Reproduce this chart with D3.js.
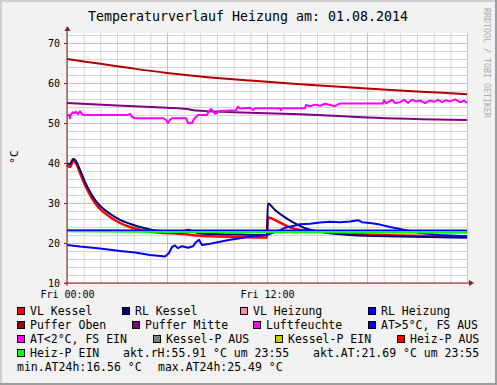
<!DOCTYPE html>
<html>
<head>
<meta charset="utf-8">
<script src="https://cdn.jsdelivr.net/npm/d3@7"></script>
<style>
  body { margin: 0; background: #f2f2f2; }
  text { font-family: "DejaVu Sans Mono", monospace; fill: #000; }
</style>
</head>
<body>
<svg id="chart" width="497" height="385"></svg>
<script>

// --- data: [hour of day, value] ---
var pufferOben = [[0,66],[2,64.8],[4,63.6],[6,62.5],[8,61.6],[11,60.6],[14,59.7],[18,58.6],[21,57.9],[24,57.2]];

var pufferMitte = [[0,55],[3,54.4],[6,53.8],[7.2,53.5],[7.7,53.1],[10,52.7],[14,52.2],[18,51.4],[24,50.75]];

var luftfeuchte = [[0,52],[0.12,52],[0.18,51.2],[0.24,52.2],[0.36,52.7],[0.48,52.5],[0.54,52.8],[0.66,52.2],[0.78,52.9],
  [0.9,52.2],[1.02,52],[3.66,52],[3.78,52.3],[3.9,51.5],[4.08,51.2],[5.76,51.2],[5.94,50.8],[6.06,50],[6.18,50.8],[6.3,51.2],
  [7.14,51.2],[7.26,50],[7.5,50],[7.62,51],[7.86,52],[8.4,52],[8.52,53],[8.64,53.5],[8.76,53],[8.88,52.3],[9.0,52.5],[9.12,53],
  [10.14,53.2],[10.26,54.1],[10.38,53.6],[10.98,53.8],[11.16,53.25],[11.28,53.7],[12.78,53.7],[12.84,53.2],[12.9,53.7],
  [14.28,53.7],[14.34,54.5],[14.58,54.2],[14.88,54.6],[15.18,54.3],[15.48,54.8],[15.78,54.5],[16.08,54.2],[16.38,54.9],
  [18.96,54.9],[19.02,55.7],[19.14,54.9],[19.5,55.8],[19.68,55],[19.98,55.2],[20.22,55.8],[20.46,55],[20.7,55.8],[20.94,55.4],
  [21.18,55.6],[21.48,55],[21.78,55.6],[22.02,55.3],[22.26,55.8],[22.5,55.2],[22.74,55.7],[22.98,55.4],[23.28,55.9],
  [23.58,55.2],[23.82,55.6],[24,55]];

var vlKessel = [[0,39.5],[0.18,39],[0.36,40.5],[0.48,40.3],[0.78,37.5],[1.08,34.5],[1.38,32],[1.68,30],[1.98,28.5],
  [2.58,26.5],[3.18,25],[3.78,24],[4.38,23.3],[4.98,22.8],[5.88,22.5],[6.78,22.3],[7.98,21.8],[9.18,21.6],[10.38,21.5],
  [12,21.4],[12.05,26.4],[12.78,25.1],[13.38,23.9],[13.98,23.25],[15.18,22.8],[16.98,22.3],[19.98,21.9],[24,21.6]];

var rlKessel = [[0,40],[0.18,39.7],[0.36,41],[0.48,40.8],[0.78,38.3],[1.08,35.3],[1.38,32.8],[1.68,30.8],[1.98,29.3],
  [2.58,27.3],[3.18,25.8],[3.78,24.8],[4.38,24],[4.98,23.4],[5.88,22.9],[6.78,22.6],[7.26,23.3],[7.6,22.8],[8,22.4],
  [9.18,22.2],[10.38,22.1],[12,22],[12.05,29.9],[12.48,28.25],[13.08,26.4],[13.68,24.9],[14.28,23.7],[15.18,22.8],
  [16.98,22],[19.98,21.6],[24,21.3]];

var rlHeizung = [[0,19.5],[0.78,19.1],[1.98,18.6],[3.18,18.0],[4.08,17.6],[4.98,17.0],[5.46,16.8],[5.88,16.6],[6.12,17.5],
  [6.3,19.0],[6.48,19.4],[6.66,18.7],[6.9,19.2],[7.26,18.8],[7.56,19.2],[7.74,20.2],[7.92,20.8],[8.1,19.5],[8.58,19.8],
  [9.18,20.3],[9.78,20.8],[10.38,21.2],[10.98,21.6],[11.58,21.8],[12,22.0],[12.3,22.5],[12.66,23.0],[13.08,23.8],
  [13.5,24.2],[13.98,24.7],[14.58,24.8],[15.18,25.1],[15.78,25.3],[16.38,25.2],[16.98,25.4],[17.46,25.7],[17.7,25.2],
  [18.18,25.0],[18.78,24.6],[19.38,24.0],[19.98,23.5],[20.58,23.0],[21.18,22.5],[22.38,22.0],[24,21.7]];

var atSchwelle = [[0,23.2],[24,23.2]];
var heizPEin = [[0,23.05],[6,22.9],[12,22.8],[24,22.7]];

var yTicks = [10,20,30,40,50,60,70];
var xTickHours = [0,12];

var legendNames = ["VL Kessel","RL Kessel","VL Heizung","RL Heizung","Puffer Oben","Puffer Mitte","Luftfeuchte",
  "AT>5°C, FS AUS","AT<2°C, FS EIN","Kessel-P AUS","Kessel-P EIN","Heiz-P AUS","Heiz-P EIN"];
var legendColors = ["#ff0000","#000080","#ff8ca0","#0000ff","#a00000","#800080","#ff00ff",
  "#0000ff","#ff00ff","#808080","#cccc00","#ff0000","#00ff00"];
var statTexts = ["akt.rH:55.91 °C um 23:55","akt.AT:21.69 °C um 23:55","min.AT24h:16.56 °C","max.AT24h:25.49 °C"];

// --- layout ---
var W = 497, H = 385;
var pL = 67, pR = 467, pT = 33, pB = 283;
var day = new Date(2014, 7, 1);
function t(h) { return new Date(day.getTime() + h * 3600e3); }

var svg = d3.select("#chart");

svg.append("rect").attr("width", W).attr("height", H).attr("fill", "#f2f2f2");
// frame shading
svg.append("rect").attr("x", 0).attr("y", 0).attr("width", W).attr("height", 2).attr("fill", "#cfcfcf");
svg.append("rect").attr("x", 0).attr("y", 0).attr("width", 2).attr("height", H).attr("fill", "#cfcfcf");
svg.append("rect").attr("x", W - 2).attr("y", 0).attr("width", 2).attr("height", H).attr("fill", "#9e9e9e");
svg.append("rect").attr("x", 0).attr("y", H - 2).attr("width", W).attr("height", 2).attr("fill", "#9e9e9e");

var x = d3.scaleTime().domain([t(0), t(24)]).range([pL, pR]);
var y = d3.scaleLinear().domain([10, 72.5]).range([pB, pT]);

svg.append("rect").attr("x", pL).attr("y", pT).attr("width", pR - pL).attr("height", pB - pT).attr("fill", "#fff");

// minor grid
svg.append("g").attr("transform", "translate(" + pL + ",0)")
  .call(d3.axisLeft(y).tickValues(d3.range(12, 73, 2)).tickSize(-(pR - pL)).tickFormat(""))
  .call(function(g){ g.select(".domain").remove(); g.selectAll("line").attr("stroke", "#d6d6d6"); });
svg.append("g").attr("transform", "translate(0," + pB + ")")
  .call(d3.axisBottom(x).ticks(d3.timeHour.every(1)).tickSize(-(pB - pT)).tickFormat(""))
  .call(function(g){ g.select(".domain").remove(); g.selectAll("line").attr("stroke", "#d6d6d6"); });

// major grid
svg.append("g").attr("transform", "translate(" + pL + ",0)")
  .call(d3.axisLeft(y).tickValues(yTicks).tickSize(-(pR - pL)).tickFormat(""))
  .call(function(g){ g.select(".domain").remove(); g.selectAll("line").attr("stroke", "#f2b0b0"); });
svg.append("g").attr("transform", "translate(0," + pB + ")")
  .call(d3.axisBottom(x).ticks(d3.timeHour.every(6)).tickSize(-(pB - pT)).tickFormat(""))
  .call(function(g){ g.select(".domain").remove(); g.selectAll("line").attr("stroke", "#f2b0b0"); });

// series
var line = d3.line().x(function(d){ return x(t(d[0])); }).y(function(d){ return y(d[1]); });
var smooth = d3.line().curve(d3.curveMonotoneX).x(function(d){ return x(t(d[0])); }).y(function(d){ return y(d[1]); });
function draw(data, color, w, gen) {
  svg.append("path").datum(data).attr("d", gen || line).attr("fill", "none")
    .attr("stroke", color).attr("stroke-width", w).attr("stroke-linejoin", "round");
}
draw(vlKessel, "#ff0000", 2.5, smooth);
draw(rlKessel, "#000080", 2, smooth);
draw(rlHeizung, "#0000ff", 2);
draw(pufferOben, "#b00000", 2, smooth);
draw(pufferMitte, "#800080", 2, smooth);
draw(luftfeuchte, "#ff00ff", 2);
draw(heizPEin, "#00ff00", 3);
draw(atSchwelle, "#0000ff", 1.5);

// axes
var axisCol = "#802020";
svg.append("line").attr("x1", pL).attr("x2", pL).attr("y1", pB + 3).attr("y2", 30)
  .attr("stroke", axisCol).attr("stroke-width", 1);
svg.append("line").attr("x1", pL - 2).attr("x2", 470).attr("y1", pB).attr("y2", pB)
  .attr("stroke", axisCol).attr("stroke-width", 1);
svg.append("path").attr("d", "M64.5,31 L70.5,31 L67.5,26 Z").attr("fill", axisCol);
svg.append("path").attr("d", "M469,280 L469,286 L474,283 Z").attr("fill", axisCol);

var yAxis = svg.append("g").attr("transform", "translate(" + pL + ",0)")
  .call(d3.axisLeft(y).tickValues(yTicks).tickSize(3).tickPadding(4));
yAxis.select(".domain").remove();
yAxis.selectAll("line").attr("stroke", axisCol);
yAxis.selectAll("text").style("font-family", "DejaVu Sans Mono").style("font-size", "10px").attr("fill", "#000");

var xAxis = svg.append("g").attr("transform", "translate(0," + pB + ")")
  .call(d3.axisBottom(x).tickValues(xTickHours.map(t)).tickFormat(d3.timeFormat("%a %H:%M")).tickSize(0).tickPadding(8));
xAxis.select(".domain").remove();
xAxis.selectAll("text").style("font-family", "DejaVu Sans Mono").style("font-size", "10px").attr("fill", "#000");

// title, unit label, watermark
svg.append("text").attr("x", 248).attr("y", 21).attr("text-anchor", "middle")
  .style("font-size", "13.3px").text("Temperaturverlauf Heizung am: 01.08.2014");
svg.append("text").attr("transform", "translate(18,157) rotate(-90)").attr("text-anchor", "middle")
  .style("font-size", "11px").text("°C");
svg.append("text").attr("transform", "translate(484,8) rotate(90)")
  .style("font-size", "8.3px").style("fill", "#ababab").text("RRDTOOL / TOBI OETIKER");

// legend
var legendPos = [[17,307],[122,307],[240,307],[368,307],[17,321],[132,321],[253,321],[368,321],
  [17,335],[153,335],[275,335],[397,335],[17,349]];
legendNames.forEach(function(name, i) {
  var p = legendPos[i];
  svg.append("rect").attr("x", p[0] + 0.5).attr("y", p[1] + 0.5).attr("width", 7).attr("height", 7)
    .attr("fill", legendColors[i]).attr("stroke", "#000").attr("stroke-width", 1);
  svg.append("text").attr("x", p[0] + 13).attr("y", p[1] + 8).style("font-size", "11.5px").text(name);
});
var statPos = [[123,357],[313,357],[17,371],[158,371]];
statTexts.forEach(function(s, i) {
  svg.append("text").attr("x", statPos[i][0]).attr("y", statPos[i][1]).style("font-size", "11.5px").text(s);
});

</script>
</body>
</html>
